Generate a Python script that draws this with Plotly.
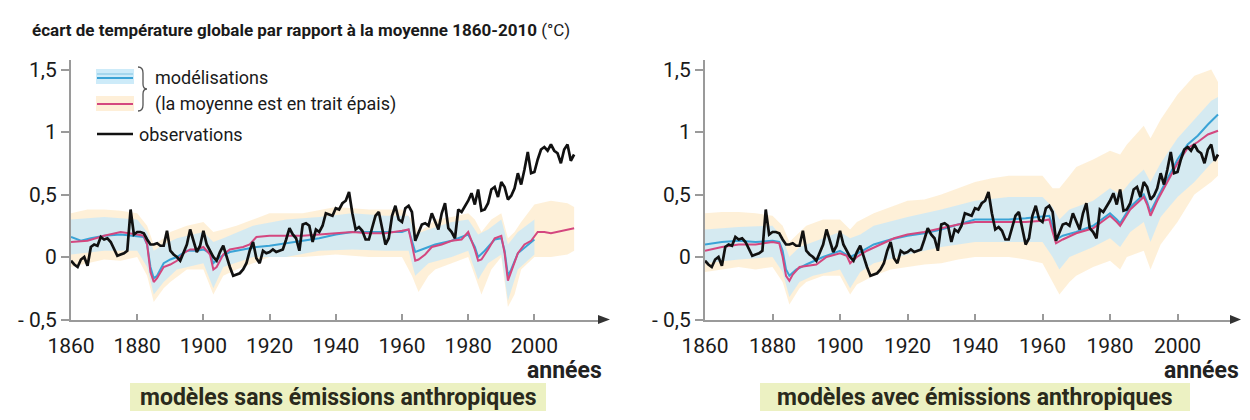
import plotly.graph_objects as go

# ---------------- data ----------------
obs_years = list(range(1860, 2013))
obs_values = [
    -0.03, -0.06, -0.08, -0.02, 0.00, -0.07, 0.08, 0.10, 0.09, 0.16,
    0.14, 0.15, 0.12, 0.07, 0.01, 0.02, 0.03, 0.05, 0.38, 0.18,
    0.20, 0.20, 0.19, 0.14, 0.10, 0.10, 0.11, 0.09, 0.09, 0.21,
    0.05, 0.02, 0.00, -0.03, 0.03, 0.10, 0.22, 0.12, 0.04, 0.09,
    0.21, 0.10, 0.05, 0.00, -0.03, 0.04, 0.09, 0.00, -0.08, -0.15,
    -0.14, -0.13, -0.10, -0.05, 0.05, 0.12, -0.01, -0.05, 0.05, 0.03,
    0.04, 0.06, 0.04, 0.05, 0.06, 0.14, 0.23, 0.18, 0.15, 0.05,
    0.26, 0.27, 0.25, 0.12, 0.22, 0.20, 0.25, 0.35, 0.34, 0.33,
    0.39, 0.38, 0.43, 0.45, 0.52, 0.35, 0.22, 0.24, 0.21, 0.14,
    0.14, 0.23, 0.33, 0.36, 0.24, 0.10, 0.15, 0.33, 0.41, 0.30,
    0.28, 0.39, 0.41, 0.36, 0.13, 0.20, 0.26, 0.27, 0.25, 0.35,
    0.29, 0.22, 0.35, 0.43, 0.23, 0.20, 0.15, 0.38, 0.36, 0.40,
    0.45, 0.51, 0.42, 0.54, 0.37, 0.38, 0.43, 0.54, 0.56, 0.48,
    0.60, 0.56, 0.46, 0.49, 0.55, 0.67, 0.58, 0.70, 0.84, 0.67,
    0.68, 0.78, 0.86, 0.88, 0.85, 0.90, 0.85, 0.83, 0.75, 0.86,
    0.90, 0.77, 0.82,
]

# left panel: models without anthropogenic emissions
nat_pink_years = [1860, 1865, 1870, 1875, 1880, 1882, 1883, 1884, 1885, 1886, 1888, 1890, 1892, 1894,
                  1896, 1898, 1900, 1902, 1903, 1904, 1906, 1908, 1910, 1912, 1914, 1916, 1920, 1925,
                  1930, 1935, 1940, 1945, 1950, 1955, 1960, 1962, 1963, 1964, 1965, 1967, 1969, 1972,
                  1975, 1978, 1980, 1982, 1983, 1984, 1986, 1988, 1990, 1991, 1992, 1993, 1995, 1997,
                  1999, 2001, 2003, 2005, 2007, 2009, 2012]
nat_pink_values = [0.12, 0.13, 0.17, 0.20, 0.18, 0.17, 0.10, -0.12, -0.20, -0.17, -0.08, -0.06, -0.03, 0.03,
                   0.06, 0.06, 0.08, 0.02, -0.10, -0.08, 0.02, 0.06, 0.07, 0.08, 0.10, 0.16, 0.17, 0.17,
                   0.17, 0.18, 0.19, 0.20, 0.19, 0.19, 0.21, 0.22, 0.10, -0.03, -0.02, 0.02, 0.08, 0.10,
                   0.13, 0.14, 0.20, 0.06, -0.03, -0.02, 0.06, 0.15, 0.17, 0.03, -0.19, -0.12, 0.03, 0.10,
                   0.13, 0.20, 0.20, 0.19, 0.20, 0.21, 0.23]
nat_blue_years = [1860, 1863, 1866, 1870, 1875, 1880, 1882, 1883, 1884, 1885, 1886, 1888, 1890, 1892,
                  1895, 1898, 1900, 1902, 1903, 1905, 1908, 1912, 1916, 1920, 1925, 1930, 1935, 1940,
                  1945, 1950, 1955, 1960, 1962, 1963, 1964, 1966, 1970, 1975, 1980, 1982, 1983, 1985,
                  1988, 1990, 1991, 1992, 1993, 1995, 1998, 2000]
nat_blue_values = [0.16, 0.13, 0.15, 0.17, 0.18, 0.17, 0.16, 0.10, -0.08, -0.17, -0.15, -0.05, -0.02, 0.00,
                   0.05, 0.05, 0.06, 0.03, -0.05, 0.00, 0.04, 0.06, 0.08, 0.09, 0.11, 0.13, 0.15, 0.18,
                   0.20, 0.20, 0.20, 0.20, 0.22, 0.12, 0.04, 0.06, 0.10, 0.13, 0.18, 0.08, 0.00, 0.05,
                   0.14, 0.15, 0.05, -0.15, -0.10, 0.03, 0.10, 0.14]
nat_orange_years = [1860, 1865, 1870, 1875, 1880, 1883, 1885, 1888, 1890, 1895, 1900, 1903, 1906, 1910,
                    1915, 1920, 1930, 1940, 1950, 1960, 1963, 1965, 1968, 1970, 1975, 1980, 1982, 1984,
                    1987, 1990, 1992, 1994, 1996, 2000, 2005, 2010, 2012]
nat_orange_upper = [0.35, 0.38, 0.38, 0.37, 0.35, 0.25, 0.10, 0.15, 0.20, 0.25, 0.28, 0.20, 0.22, 0.25,
                    0.30, 0.35, 0.35, 0.40, 0.38, 0.38, 0.30, 0.20, 0.25, 0.30, 0.32, 0.35, 0.30, 0.20,
                    0.30, 0.35, 0.15, 0.20, 0.28, 0.42, 0.45, 0.43, 0.40]
nat_orange_lower = [-0.08, -0.05, -0.02, -0.03, 0.00, -0.15, -0.36, -0.25, -0.20, -0.10, -0.10, -0.30, -0.15, -0.10,
                    -0.05, 0.00, 0.00, 0.02, 0.00, 0.00, -0.15, -0.28, -0.15, -0.10, -0.05, 0.00, -0.15, -0.30,
                    -0.10, 0.00, -0.40, -0.30, -0.10, 0.00, 0.00, 0.02, 0.05]
nat_bband_years = [1860, 1870, 1880, 1883, 1885, 1888, 1892, 1900, 1903, 1906, 1915, 1925, 1935, 1945,
                   1955, 1962, 1964, 1968, 1975, 1980, 1983, 1986, 1990, 1992, 1995, 2000]
nat_bband_upper = [0.30, 0.32, 0.30, 0.20, 0.05, 0.10, 0.15, 0.20, 0.12, 0.15, 0.25, 0.30, 0.32, 0.35,
                   0.33, 0.33, 0.18, 0.22, 0.28, 0.30, 0.18, 0.22, 0.30, 0.10, 0.20, 0.30]
nat_bband_lower = [0.02, 0.05, 0.05, -0.08, -0.30, -0.20, -0.10, -0.05, -0.25, -0.08, 0.00, 0.00, 0.05, 0.06,
                   0.05, 0.05, -0.15, -0.05, 0.00, 0.05, -0.18, -0.05, 0.02, -0.35, -0.10, 0.02]

# right panel: models with anthropogenic emissions
ant_pink_years = [1860, 1865, 1870, 1875, 1880, 1882, 1883, 1884, 1885, 1886, 1888, 1890, 1893, 1896,
                  1900, 1902, 1903, 1905, 1908, 1912, 1916, 1920, 1925, 1930, 1935, 1940, 1945, 1950,
                  1955, 1960, 1962, 1963, 1964, 1966, 1970, 1975, 1980, 1982, 1983, 1986, 1990, 1991,
                  1992, 1994, 1997, 2000, 2003, 2006, 2009, 2012]
ant_pink_values = [0.05, 0.08, 0.10, 0.10, 0.12, 0.11, 0.00, -0.15, -0.19, -0.14, -0.08, -0.07, -0.06, 0.00,
                   0.03, 0.01, -0.05, 0.00, 0.05, 0.10, 0.15, 0.18, 0.20, 0.23, 0.26, 0.28, 0.28, 0.28,
                   0.28, 0.29, 0.30, 0.20, 0.11, 0.14, 0.19, 0.23, 0.33, 0.28, 0.25, 0.38, 0.48, 0.42,
                   0.33, 0.45, 0.60, 0.75, 0.87, 0.92, 0.98, 1.01]
ant_blue_years = [1860, 1865, 1870, 1875, 1880, 1882, 1883, 1884, 1885, 1887, 1890, 1895, 1900, 1903,
                  1906, 1910, 1915, 1920, 1925, 1930, 1935, 1940, 1945, 1950, 1955, 1960, 1962, 1963,
                  1964, 1966, 1970, 1975, 1980, 1982, 1983, 1986, 1990, 1991, 1992, 1994, 1997, 2000,
                  2003, 2006, 2009, 2012]
ant_blue_values = [0.10, 0.12, 0.13, 0.12, 0.13, 0.12, 0.05, -0.10, -0.15, -0.10, -0.06, 0.00, 0.05, 0.00,
                   0.04, 0.10, 0.14, 0.17, 0.19, 0.22, 0.26, 0.30, 0.30, 0.30, 0.31, 0.32, 0.33, 0.25,
                   0.14, 0.17, 0.20, 0.25, 0.35, 0.30, 0.27, 0.40, 0.50, 0.44, 0.36, 0.47, 0.62, 0.78,
                   0.90, 0.97, 1.06, 1.14]
ant_orange_years = [1860, 1865, 1870, 1875, 1880, 1883, 1885, 1888, 1890, 1895, 1900, 1903, 1905, 1910,
                    1915, 1920, 1925, 1930, 1935, 1940, 1945, 1950, 1955, 1960, 1963, 1965, 1968, 1970,
                    1975, 1980, 1983, 1985, 1990, 1992, 1995, 2000, 2005, 2010, 2012]
ant_orange_upper = [0.35, 0.36, 0.36, 0.35, 0.33, 0.25, 0.12, 0.20, 0.25, 0.30, 0.30, 0.22, 0.28, 0.35,
                    0.40, 0.45, 0.46, 0.50, 0.55, 0.60, 0.63, 0.65, 0.65, 0.65, 0.55, 0.55, 0.65, 0.72,
                    0.78, 0.85, 0.82, 0.90, 1.05, 0.95, 1.10, 1.30, 1.45, 1.50, 1.40]
ant_orange_lower = [-0.12, -0.10, -0.08, -0.10, -0.08, -0.20, -0.38, -0.25, -0.20, -0.15, -0.15, -0.30, -0.22, -0.15,
                    -0.10, -0.08, -0.06, -0.05, -0.02, 0.00, 0.00, 0.00, -0.02, -0.05, -0.20, -0.30, -0.20, -0.15,
                    -0.08, -0.03, -0.10, 0.00, 0.05, -0.10, 0.10, 0.28, 0.50, 0.60, 0.65]
ant_bband_years = [1860, 1870, 1880, 1883, 1885, 1888, 1892, 1900, 1903, 1906, 1910, 1920, 1930, 1940,
                   1950, 1960, 1963, 1965, 1968, 1975, 1980, 1983, 1986, 1990, 1992, 1995, 2000, 2005,
                   2010, 2012]
ant_bband_upper = [0.22, 0.24, 0.25, 0.15, 0.00, 0.08, 0.12, 0.20, 0.15, 0.18, 0.25, 0.32, 0.38, 0.45,
                   0.48, 0.48, 0.40, 0.30, 0.38, 0.45, 0.55, 0.50, 0.60, 0.70, 0.60, 0.75, 0.95, 1.10,
                   1.25, 1.28]
ant_bband_lower = [-0.05, -0.02, 0.00, -0.12, -0.32, -0.20, -0.15, -0.10, -0.25, -0.12, -0.05, 0.02, 0.08, 0.12,
                   0.12, 0.12, 0.00, -0.10, 0.00, 0.08, 0.15, 0.08, 0.20, 0.28, 0.12, 0.32, 0.48, 0.60,
                   0.75, 0.80]

y_tickvals = [-0.5, 0, 0.5, 1, 1.5]
y_ticktext = ["- 0,5", "0", "0,5", "1", "1,5"]
x_tickvals = [1860, 1880, 1900, 1920, 1940, 1960, 1980, 2000]

title_text = "écart de température globale par rapport à la moyenne 1860-2010"
legend_labels = ["modélisations", "(la moyenne est en trait épais)", "observations"]
panel_labels = ["modèles sans émissions anthropiques", "modèles avec émissions anthropiques"]
xaxis_label = "années"

# ---------------- styles ----------------
# The page body keeps its default 8 px margin, so the figure is sized to fit the
# 1250x420 window and page positions are converted to figure positions.
OFF = 8
W, H = 1250 - 2 * OFF, 420 - 2 * OFF
def px(x):
    return (x - OFF) / W
def py(y):
    return 1 - (y - OFF) / H

ORANGE_FILL = "rgba(253, 222, 168, 0.45)"
BLUE_FILL = "rgba(202, 233, 248, 0.8)"
BLUE_LINE = "#3aa3d6"
PINK_LINE = "#d4477f"
OBS_LINE = "#111111"
AXIS_COL = "#9a9a9a"
TEXT_COL = "#1a1a1a"
BOLDFONT = "Roboto, Liberation Sans, sans-serif"
TICKFONT = dict(family="Roboto, sans-serif", size=21, color=TEXT_COL)

fig = go.Figure()

def band(xs, up, lo, color, xa, ya):
    fig.add_trace(go.Scatter(x=list(xs) + list(xs)[::-1], y=list(up) + list(lo)[::-1],
                             fill="toself", fillcolor=color, line=dict(width=0),
                             mode="lines", hoverinfo="skip", showlegend=False,
                             xaxis=xa, yaxis=ya))

def line(xs, ys, color, width, xa, ya):
    fig.add_trace(go.Scatter(x=xs, y=ys, mode="lines", line=dict(color=color, width=width),
                             showlegend=False, xaxis=xa, yaxis=ya))

# left panel
band(nat_orange_years, nat_orange_upper, nat_orange_lower, ORANGE_FILL, "x", "y")
band(nat_bband_years, nat_bband_upper, nat_bband_lower, BLUE_FILL, "x", "y")
line(nat_blue_years, nat_blue_values, BLUE_LINE, 2, "x", "y")
line(nat_pink_years, nat_pink_values, PINK_LINE, 2, "x", "y")
line(obs_years, obs_values, OBS_LINE, 2.7, "x", "y")
# right panel
band(ant_orange_years, ant_orange_upper, ant_orange_lower, ORANGE_FILL, "x2", "y2")
band(ant_bband_years, ant_bband_upper, ant_bband_lower, BLUE_FILL, "x2", "y2")
line(ant_blue_years, ant_blue_values, BLUE_LINE, 2, "x2", "y2")
line(ant_pink_years, ant_pink_values, PINK_LINE, 2, "x2", "y2")
line(obs_years, obs_values, OBS_LINE, 2.7, "x2", "y2")

ydom = [py(319.5), py(60)]
yrange = [-0.5, 1.576]

def xaxis_cfg(dom, rng, anchor):
    return dict(domain=dom, range=rng, anchor=anchor, showline=True, linecolor=AXIS_COL, linewidth=2,
                ticks="inside", ticklen=6, tickwidth=1.5, tickcolor=AXIS_COL, tickvals=x_tickvals,
                tickfont=TICKFONT, ticklabelstandoff=6, showgrid=False, zeroline=False,
                fixedrange=True, automargin=False)

def yaxis_cfg(anchor):
    return dict(domain=ydom, range=yrange, anchor=anchor, showline=True, linecolor=AXIS_COL, linewidth=2,
                ticks="outside", ticklen=8, tickwidth=1.5, tickcolor=AXIS_COL, tickvals=y_tickvals,
                ticktext=y_ticktext, tickfont=TICKFONT, showgrid=False, zeroline=False, fixedrange=True,
                automargin=False)

shapes = []
annotations = []

# arrows at the end of the x axes
for base, tip in [(598, 610), (1230, 1241)]:
    shapes.append(dict(type="path", xref="paper", yref="paper",
                       path=f"M {px(base)},{py(315)} L {px(tip)},{py(319.5)} L {px(base)},{py(324)} Z",
                       fillcolor="#333333", line=dict(width=0)))

# legend glyphs
shapes.append(dict(type="rect", xref="paper", yref="paper", x0=px(96), x1=px(134), y0=py(84), y1=py(69),
                   fillcolor="rgba(200, 233, 248, 0.9)", line=dict(width=0)))
shapes.append(dict(type="rect", xref="paper", yref="paper", x0=px(96), x1=px(134), y0=py(111), y1=py(96),
                   fillcolor="rgba(253, 232, 200, 0.7)", line=dict(width=0)))
shapes.append(dict(type="line", xref="paper", yref="paper", x0=px(97), x1=px(133), y0=py(74), y1=py(74),
                   line=dict(color="#7fc4e4", width=1.2)))
shapes.append(dict(type="line", xref="paper", yref="paper", x0=px(97), x1=px(133), y0=py(78), y1=py(78),
                   line=dict(color=BLUE_LINE, width=2)))
shapes.append(dict(type="line", xref="paper", yref="paper", x0=px(97), x1=px(133), y0=py(104), y1=py(104),
                   line=dict(color=PINK_LINE, width=2)))
shapes.append(dict(type="line", xref="paper", yref="paper", x0=px(97), x1=px(133), y0=py(134), y1=py(134),
                   line=dict(color=OBS_LINE, width=2.7)))
# curly brace
brace = (f"M {px(138)},{py(67)} Q {px(143)},{py(67)} {px(143)},{py(73)} L {px(143)},{py(84)} "
         f"Q {px(143)},{py(89)} {px(147)},{py(89)} Q {px(143)},{py(89)} {px(143)},{py(94)} "
         f"L {px(143)},{py(105)} Q {px(143)},{py(111)} {px(138)},{py(111)}")
shapes.append(dict(type="path", xref="paper", yref="paper", path=brace,
                   line=dict(color="#555555", width=1.3)))

legend_font = dict(family="Roboto, sans-serif", size=18, color=TEXT_COL)
annotations.append(dict(text=legend_labels[0], x=px(153), y=py(78), xref="paper", yref="paper",
                        xanchor="left", yanchor="middle", showarrow=False, font=legend_font))
annotations.append(dict(text=legend_labels[1], x=px(153), y=py(104), xref="paper", yref="paper",
                        xanchor="left", yanchor="middle", showarrow=False, font=legend_font))
annotations.append(dict(text=legend_labels[2], x=px(137), y=py(134), xref="paper", yref="paper",
                        xanchor="left", yanchor="middle", showarrow=False, font=legend_font))

# title
annotations.append(dict(text=f"<b>{title_text}</b> (°C)", x=px(30), y=py(30), xref="paper", yref="paper",
                        xanchor="left", yanchor="middle", showarrow=False,
                        font=dict(family=BOLDFONT, size=17, color=TEXT_COL)))

# axis labels and panel labels
for xr in [604, 1241]:
    annotations.append(dict(text=f"<b>{xaxis_label}</b>", x=px(xr), y=py(370), xref="paper", yref="paper",
                            xanchor="right", yanchor="middle", showarrow=False,
                            font=dict(family=BOLDFONT, size=23, color="#222222")))
for (x0, x1, cx), lab in zip([(130, 546, 338), (760, 1190, 975)], panel_labels):
    shapes.append(dict(type="rect", xref="paper", yref="paper", x0=px(x0), x1=px(x1), y0=py(411), y1=py(383),
                       fillcolor="#ecf1c2", line=dict(width=0), layer="below"))
    annotations.append(dict(text=f"<b>{lab}</b>", x=px(cx), y=py(397), xref="paper", yref="paper",
                            xanchor="center", yanchor="middle", showarrow=False,
                            font=dict(family=BOLDFONT, size=23, color="#2a2a1c")))

fig.update_layout(
    width=W, height=H, margin=dict(l=0, r=0, t=0, b=0, autoexpand=False),
    paper_bgcolor="white", plot_bgcolor="rgba(0,0,0,0)",
    xaxis=xaxis_cfg([px(71), px(598)], [1860, 1860 + (598 - 71) / 3.31], "y"),
    yaxis=yaxis_cfg("x"),
    xaxis2=xaxis_cfg([px(705), px(1230)], [1860, 1860 + (1230 - 705) / 3.375], "y2"),
    yaxis2=yaxis_cfg("x2"),
    shapes=shapes, annotations=annotations, showlegend=False,
)

fig.write_html("out.html")
